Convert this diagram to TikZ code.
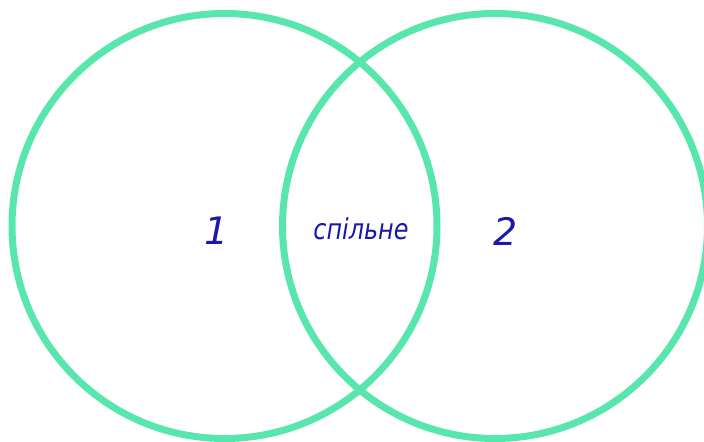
\documentclass[tikz,border=0pt]{standalone}
\usepackage{fontspec}
\setmainfont{DejaVu Sans}
\usetikzlibrary{positioning}
\definecolor{mint}{HTML}{58E6AC}
\definecolor{ink}{HTML}{1A1AA8}
\tikzset{
  ring/.style={draw=mint,line width=7bp},
  tag/.style={text=ink,font=\itshape,inner sep=0pt},
  bignum/.style={tag,font=\fontsize{38}{40}\selectfont\itshape}}
\begin{document}
\begin{tikzpicture}[x=1bp,y=-1bp]
  \useasboundingbox (0,0) rectangle (704,442);
  \draw[ring] (224.5,226) circle[radius=212.5];
  \draw[ring] (495,226) circle[radius=212.5];
  \node[bignum] (one) at (217,231) {1};
  \node[tag,font=\fontsize{24}{28}\selectfont\itshape,yscale=1.2] (common) at (361,229) {спільне};
  \node[bignum] (two) at (506,231) {2};
\end{tikzpicture}
\end{document}
